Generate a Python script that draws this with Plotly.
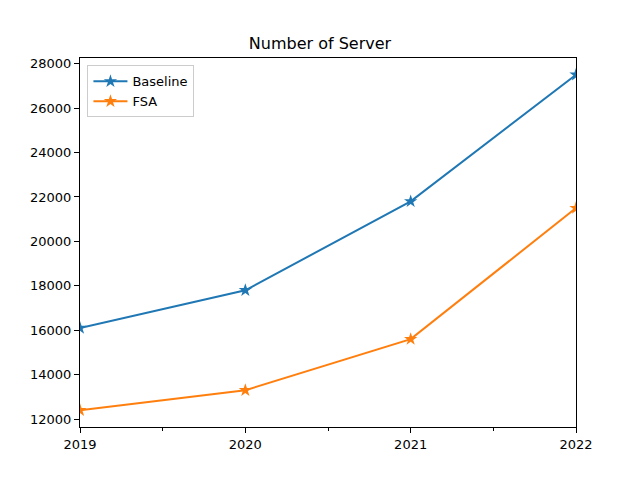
import plotly.graph_objects as go

years = [2019, 2020, 2021, 2022]
baseline = [16100, 17800, 21800, 27500]
fsa = [12400, 13300, 15600, 21500]
y_ticks = [12000, 14000, 16000, 18000, 20000, 22000, 24000, 26000, 28000]
minor_x = [2019.5, 2020.5, 2021.5]

fig = go.Figure()
fig.add_trace(go.Scatter(x=years, y=baseline, name="Baseline", mode="lines+markers",
                         line=dict(color="#1f77b4", width=2),
                         marker=dict(symbol="star", size=10, color="#1f77b4")))
fig.add_trace(go.Scatter(x=years, y=fsa, name="FSA", mode="lines+markers",
                         line=dict(color="#ff7f0e", width=2),
                         marker=dict(symbol="star", size=10, color="#ff7f0e")))

axis_common = dict(showline=True, linecolor="black", linewidth=1, mirror=True,
                   showgrid=False, zeroline=False, ticks="outside", ticklen=5,
                   tickcolor="black", tickfont=dict(family="DejaVu Sans", size=13, color="black"))

fig.update_layout(
    width=640, height=480,
    margin=dict(l=80, r=64, t=57.6, b=52.8),
    paper_bgcolor="white", plot_bgcolor="white",
    title=dict(text="Number of Server", x=0.5, xanchor="center", y=1 - 43 / 480, yanchor="middle",
               font=dict(family="DejaVu Sans", size=16, color="black")),
    font=dict(family="DejaVu Sans", color="black"),
    legend=dict(x=0.015, y=0.98, xanchor="left", yanchor="top",
                bordercolor="#cccccc", borderwidth=1, bgcolor="rgba(255,255,255,0.8)",
                font=dict(family="DejaVu Sans", size=13, color="black"),
                itemwidth=34, tracegroupgap=0),
    showlegend=True,
)
fig.update_xaxes(range=[2019, 2022], tickvals=years, ticktext=[str(y) for y in years],
                 minor=dict(tickvals=minor_x, ticks="outside", ticklen=3, tickcolor="black"),
                 **axis_common)
fig.update_yaxes(range=[11645, 28255], tickvals=y_ticks, ticktext=[str(v) for v in y_ticks],
                 **axis_common)

fig.write_html("out.html", post_script="document.body.style.margin='0';",
               config={"displayModeBar": False})
